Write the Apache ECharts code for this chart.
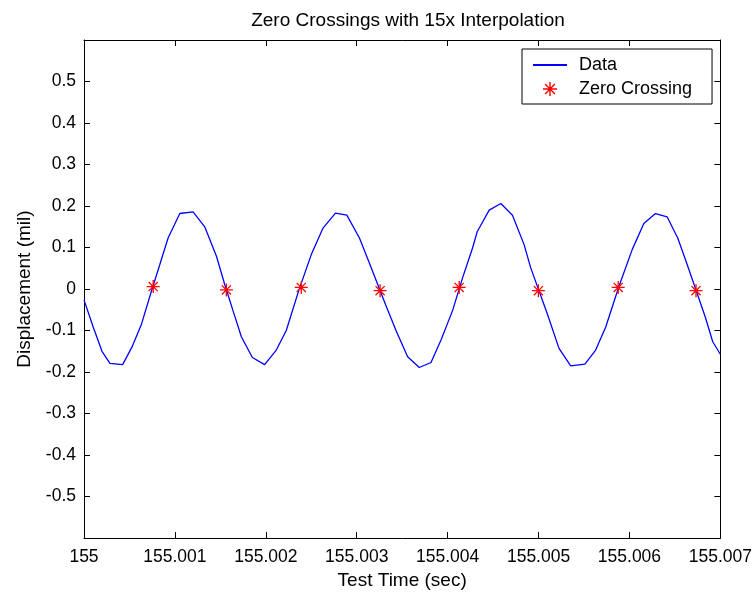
<!DOCTYPE html>
<html>
<head>
<meta charset="utf-8">
<title>Zero Crossings with 15x Interpolation</title>
<script src="https://cdn.jsdelivr.net/npm/echarts@6/dist/echarts.min.js"></script>
<style>
  html, body { margin: 0; padding: 0; background: #ffffff; }
  #chart { width: 755px; height: 595px; }
</style>
</head>
<body>
<div id="chart"></div>
<script>
// Start of the record window (s); sample times below are offsets from it in ms
const START_TIME = 155;

// Displacement samples: time offset (ms) and value (mil)
const dataTimeMs = [
  0.000, 0.102, 0.198, 0.285, 0.425, 0.527, 0.633, 0.743, 0.834, 0.925,
  1.054, 1.200, 1.328, 1.457, 1.548, 1.639, 1.731, 1.852, 1.987, 2.115,
  2.225, 2.360, 2.500, 2.627, 2.766, 2.891, 3.030, 3.139, 3.322, 3.432,
  3.560, 3.688, 3.817, 3.927, 4.054, 4.164, 4.274, 4.325, 4.457, 4.585,
  4.713, 4.841, 4.914, 5.097, 5.225, 5.354, 5.510, 5.628, 5.738, 5.884,
  6.030, 6.158, 6.286, 6.414, 6.531, 6.630, 6.835, 6.916, 7.000
];
const dataValues = [
  -0.026, -0.092, -0.150, -0.179, -0.182, -0.140, -0.084, -0.004, 0.059, 0.123,
  0.182, 0.186, 0.150, 0.079, 0.011, -0.052, -0.115, -0.165, -0.182, -0.147,
  -0.100, -0.005, 0.083, 0.146, 0.183, 0.178, 0.123, 0.063, -0.040, -0.100,
  -0.163, -0.189, -0.177, -0.123, -0.052, 0.027, 0.099, 0.138, 0.190, 0.206,
  0.178, 0.107, 0.051, -0.060, -0.143, -0.185, -0.181, -0.147, -0.092, 0.006,
  0.095, 0.158, 0.182, 0.174, 0.123, 0.062, -0.068, -0.127, -0.157
];

// Interpolated zero crossings: time offset (ms) and value (mil)
const crossingTimeMs = [0.761, 1.566, 2.390, 3.257, 4.127, 4.998, 5.876, 6.732];
const crossingValues = [0.006, -0.002, 0.004, -0.004, 0.004, -0.004, 0.004, -0.004];

// Axis settings
const xTicks = { min: 155, max: 155.007, interval: 0.001 };
const yTicks = { min: -0.6, max: 0.6, interval: 0.1 };

const toPairs = (ms, vals) => ms.map((m, i) => [START_TIME + m / 1000, vals[i]]);

// MATLAB-style '*' marker built from four thin bars
const ASTERISK = 'path://M9 0L11 0L11 20L9 20Z M0 9L20 9L20 11L0 11Z ' +
  'M2.3 3.7L3.7 2.3L17.7 16.3L16.3 17.7Z M16.3 2.3L17.7 3.7L3.7 17.7L2.3 16.3Z';

const FONT = '"Liberation Sans", Arial, sans-serif';
const INK = '#000000';

const xLabelFmt = v => String(+(+v).toFixed(3));
const yLabelFmt = v => (Math.abs(v) > 0.55 ? '' : String(+(+v).toFixed(1)));

const axisLine = { show: true, onZero: false, lineStyle: { color: INK, width: 1 } };
const inTick = { show: true, inside: true, length: 6, lineStyle: { color: INK, width: 1 } };

const chart = echarts.init(document.getElementById('chart'), null, { renderer: 'canvas' });

chart.setOption({
  animation: false,
  backgroundColor: '#ffffff',
  textStyle: { fontFamily: FONT },
  title: {
    text: 'Zero Crossings with 15x Interpolation',
    left: 403,
    top: 6,
    textAlign: 'center',
    textStyle: { fontFamily: FONT, fontSize: 19, fontWeight: 'normal', color: INK }
  },
  grid: { left: 84, right: 33, top: 40, bottom: 52, containLabel: false },
  legend: {
    orient: 'vertical',
    left: 522,
    top: 49,
    padding: [7, 20, 6, 10],
    itemGap: 6,
    itemWidth: 34,
    itemHeight: 14,
    backgroundColor: '#ffffff',
    borderColor: INK,
    borderWidth: 1,
    borderRadius: 0,
    textStyle: { fontFamily: FONT, fontSize: 18, color: INK, padding: [0, 0, 0, 7] },
    data: [
      // line sample only, no point marker on the legend line
      { name: 'Data', itemStyle: { opacity: 0 } },
      { name: 'Zero Crossing' }
    ]
  },
  xAxis: [
    {
      type: 'value',
      position: 'bottom',
      min: xTicks.min, max: xTicks.max, interval: xTicks.interval,
      name: 'Test Time (sec)',
      nameLocation: 'middle',
      nameGap: 32,
      nameTextStyle: { fontFamily: FONT, fontSize: 19, color: INK },
      axisLine: axisLine,
      axisTick: inTick,
      splitLine: { show: false },
      axisLabel: {
        formatter: xLabelFmt, margin: 10,
        fontFamily: FONT, fontSize: 17.5, color: INK,
        showMinLabel: true, showMaxLabel: true, hideOverlap: false
      }
    },
    {
      type: 'value',
      position: 'top',
      min: xTicks.min, max: xTicks.max, interval: xTicks.interval,
      axisLine: axisLine,
      axisTick: inTick,
      splitLine: { show: false },
      axisLabel: { show: false }
    }
  ],
  yAxis: [
    {
      type: 'value',
      position: 'left',
      min: yTicks.min, max: yTicks.max, interval: yTicks.interval,
      name: 'Displacement (mil)',
      nameLocation: 'middle',
      nameGap: 50,
      nameTextStyle: { fontFamily: FONT, fontSize: 19, color: INK },
      axisLine: axisLine,
      axisTick: inTick,
      splitLine: { show: false },
      axisLabel: {
        formatter: yLabelFmt, margin: 8,
        fontFamily: FONT, fontSize: 17.5, color: INK
      }
    },
    {
      type: 'value',
      position: 'right',
      min: yTicks.min, max: yTicks.max, interval: yTicks.interval,
      axisLine: axisLine,
      axisTick: inTick,
      splitLine: { show: false },
      axisLabel: { show: false }
    }
  ],
  series: [
    {
      name: 'Data',
      type: 'line',
      xAxisIndex: 0,
      yAxisIndex: 0,
      data: toPairs(dataTimeMs, dataValues),
      symbol: 'none',
      showSymbol: false,
      lineStyle: { color: '#0000ff', width: 1.3 },
      itemStyle: { color: '#0000ff' },
      z: 2
    },
    {
      name: 'Zero Crossing',
      type: 'scatter',
      xAxisIndex: 0,
      yAxisIndex: 0,
      data: toPairs(crossingTimeMs, crossingValues),
      symbol: ASTERISK,
      symbolSize: 13,
      symbolKeepAspect: true,
      itemStyle: { color: '#ff0000', opacity: 1 },
      z: 3
    }
  ]
});
</script>
</body>
</html>
